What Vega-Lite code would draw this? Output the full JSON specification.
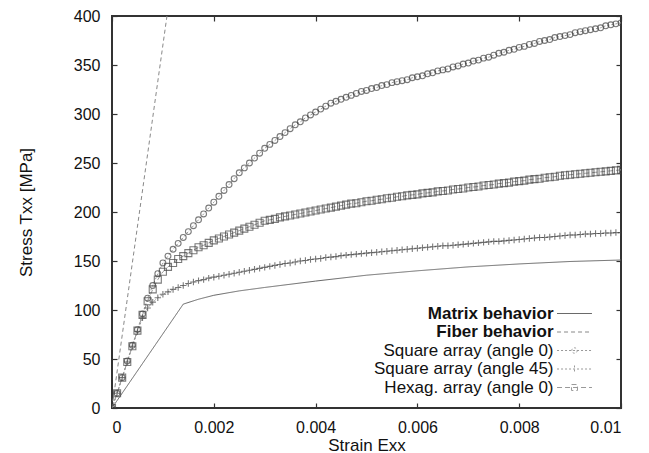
{
 "$schema": "https://vega.github.io/schema/vega-lite/v6.json",
 "width": 509, "height": 392,
 "autosize": {"type": "none"},
 "padding": {"left": 112, "top": 16, "right": 28, "bottom": 45},
 "background": "white",
 "config": {
  "view": {"stroke": "#333", "strokeWidth": 2},
  "font": "Liberation Sans",
  "axis": {"labelFont": "Liberation Sans", "labelFontSize": 16, "labelColor": "#111", "titleFont": "Liberation Sans", "titleFontSize": 17, "titleFontWeight": "normal", "titleColor": "#111", "domain": false, "grid": false, "tickColor": "#333", "tickWidth": 1.2, "tickSize": -5}
 },
 "data": {"values": [
  {"strain":0,"m":0,"f":0,"c":0,"p":0,"h":0},
  {"strain":0.0001,"c":15,"p":15,"h":15},
  {"strain":0.0002,"c":31,"p":31,"h":31},
  {"strain":0.0003,"c":48,"p":47,"h":47},
  {"strain":0.0004,"c":64,"p":63,"h":63},
  {"strain":0.0005,"c":80,"p":78,"h":79},
  {"strain":0.0006,"c":96,"p":92,"h":95},
  {"strain":0.0007,"c":112,"p":102,"h":109},
  {"strain":0.0008,"c":125,"p":108,"h":121},
  {"strain":0.0009,"c":137,"p":112.5,"h":131},
  {"strain":0.001,"c":148,"p":116,"h":139},
  {"strain":0.00108,"f":400},
  {"strain":0.0011,"c":155,"p":118.5,"h":144},
  {"strain":0.0012,"c":162,"p":121,"h":148},
  {"strain":0.0013,"c":168,"p":123,"h":152},
  {"strain":0.0014,"c":174,"p":125,"h":155,"m":106},
  {"strain":0.0015,"c":180,"p":127,"h":158},
  {"strain":0.0016,"c":186,"p":128.5,"h":161},
  {"strain":0.0017,"c":192,"p":130,"h":164,"m":111},
  {"strain":0.0018,"c":198,"p":131,"h":166},
  {"strain":0.0019,"c":204,"p":132.5,"h":168.5},
  {"strain":0.002,"c":210,"p":133.5,"h":171,"m":115},
  {"strain":0.0021,"c":216,"p":134.5,"h":173},
  {"strain":0.0022,"c":222,"p":135.5,"h":175},
  {"strain":0.0023,"c":228,"p":136.5,"h":177},
  {"strain":0.0024,"c":234,"p":137.5,"h":179},
  {"strain":0.0025,"c":240,"p":138.5,"h":181,"m":119.5},
  {"strain":0.0026,"c":245,"p":139.5,"h":183},
  {"strain":0.0027,"c":250,"p":140.5,"h":185},
  {"strain":0.0028,"c":255,"p":141.5,"h":187},
  {"strain":0.0029,"c":260,"p":142.5,"h":189},
  {"strain":0.003,"c":265,"p":143.5,"h":191,"m":123},
  {"strain":0.0031,"c":269,"p":144.5,"h":192},
  {"strain":0.0032,"c":273,"p":145.5,"h":193},
  {"strain":0.0033,"c":277,"p":146.5,"h":194.5},
  {"strain":0.0034,"c":281,"p":147.5,"h":195.5},
  {"strain":0.0035,"c":285,"p":148,"h":196.5},
  {"strain":0.0036,"c":289,"p":149,"h":197.5},
  {"strain":0.0037,"c":292,"p":150,"h":198.5},
  {"strain":0.0038,"c":296,"p":150.5,"h":199.5},
  {"strain":0.0039,"c":299,"p":151.5,"h":200.5},
  {"strain":0.004,"c":302,"p":152,"h":201.5,"m":129.5},
  {"strain":0.0041,"c":305,"p":152.5,"h":202.5},
  {"strain":0.0042,"c":308,"p":153.5,"h":203.5},
  {"strain":0.0043,"c":311,"p":154,"h":204.5},
  {"strain":0.0044,"c":313,"p":154.5,"h":205.5},
  {"strain":0.0045,"c":315,"p":155.5,"h":206.5},
  {"strain":0.0046,"c":317,"p":156,"h":207.5},
  {"strain":0.0047,"c":319,"p":156.5,"h":208.5},
  {"strain":0.0048,"c":321,"p":157,"h":209},
  {"strain":0.0049,"c":323,"p":157.5,"h":210},
  {"strain":0.005,"c":324,"p":158,"h":211,"m":135.5},
  {"strain":0.0051,"c":326,"p":158.5,"h":211.5},
  {"strain":0.0052,"c":327,"p":159,"h":212.5},
  {"strain":0.0053,"c":329,"p":159.5,"h":213},
  {"strain":0.0054,"c":330,"p":160,"h":214},
  {"strain":0.0055,"c":332,"p":160.5,"h":214.5},
  {"strain":0.0056,"c":333,"p":161,"h":215.5},
  {"strain":0.0057,"c":334,"p":161.5,"h":216},
  {"strain":0.0058,"c":335,"p":162,"h":217},
  {"strain":0.0059,"c":337,"p":162.5,"h":217.5},
  {"strain":0.006,"c":338,"p":163,"h":218,"m":140},
  {"strain":0.0061,"c":339,"p":163.5,"h":219},
  {"strain":0.0062,"c":341,"p":164,"h":219.5},
  {"strain":0.0063,"c":342,"p":164.5,"h":220},
  {"strain":0.0064,"c":344,"p":165,"h":221},
  {"strain":0.0065,"c":345,"p":165.5,"h":221.5},
  {"strain":0.0066,"c":346,"p":165.5,"h":222},
  {"strain":0.0067,"c":348,"p":166,"h":223},
  {"strain":0.0068,"c":349,"p":166.5,"h":223.5},
  {"strain":0.0069,"c":351,"p":167,"h":224},
  {"strain":0.007,"c":352,"p":167.5,"h":225,"m":144},
  {"strain":0.0071,"c":354,"p":168,"h":225.5},
  {"strain":0.0072,"c":355,"p":168.5,"h":226},
  {"strain":0.0073,"c":357,"p":169,"h":227},
  {"strain":0.0074,"c":358,"p":169.5,"h":227.5},
  {"strain":0.0075,"c":360,"p":170,"h":228},
  {"strain":0.0076,"c":362,"p":170,"h":229},
  {"strain":0.0077,"c":363,"p":170.5,"h":229.5},
  {"strain":0.0078,"c":365,"p":171,"h":230},
  {"strain":0.0079,"c":366,"p":171.5,"h":231},
  {"strain":0.008,"c":368,"p":172,"h":231.5,"m":147},
  {"strain":0.0081,"c":369,"p":172.5,"h":232},
  {"strain":0.0082,"c":371,"p":173,"h":233},
  {"strain":0.0083,"c":372,"p":173.5,"h":233.5},
  {"strain":0.0084,"c":374,"p":174,"h":234},
  {"strain":0.0085,"c":375,"p":174,"h":235},
  {"strain":0.0086,"c":376,"p":174.5,"h":235.5},
  {"strain":0.0087,"c":378,"p":175,"h":236},
  {"strain":0.0088,"c":379,"p":175.5,"h":237},
  {"strain":0.0089,"c":380,"p":176,"h":237.5},
  {"strain":0.009,"c":381,"p":176.5,"h":238,"m":149.5},
  {"strain":0.0091,"c":383,"p":176.5,"h":238.5},
  {"strain":0.0092,"c":384,"p":177,"h":239},
  {"strain":0.0093,"c":385,"p":177.5,"h":239.5},
  {"strain":0.0094,"c":386,"p":177.5,"h":240},
  {"strain":0.0095,"c":387,"p":178,"h":240.5},
  {"strain":0.0096,"c":388,"p":178,"h":241},
  {"strain":0.0097,"c":390,"p":178.5,"h":241.5},
  {"strain":0.0098,"c":391,"p":178.5,"h":242},
  {"strain":0.0099,"c":392,"p":179,"h":242.5},
  {"strain":0.01,"c":393,"p":179,"h":243,"m":151}
 ]},
 "transform": [{"fold": ["m", "f", "c", "p", "h"], "as": ["series", "stress"]}, {"filter": "isValid(datum.stress)"}],
 "layer": [
  {
   "mark": {"type": "line", "strokeWidth": 1, "clip": true},
   "encoding": {
    "x": {"field": "strain", "type": "quantitative", "scale": {"domain": [0, 0.01], "nice": false},
          "axis": {"orient": "bottom", "values": [0, 0.002, 0.004, 0.006, 0.008, 0.01], "format": ".3~f", "title": "Strain Exx", "labelPadding": 16, "titlePadding": 2}},
    "y": {"field": "stress", "type": "quantitative", "scale": {"domain": [0, 400], "nice": false},
          "axis": {"orient": "left", "values": [0, 50, 100, 150, 200, 250, 300, 350, 400], "title": "Stress Txx [MPa]", "labelPadding": 17, "titlePadding": 38}},
    "color": {"field": "series", "type": "nominal",
              "scale": {"domain": ["m", "f", "c", "p", "h"], "range": ["#666666", "#888888", "#999999", "#999999", "#999999"]},
              "legend": {"title": null, "orient": "none", "legendX": 453, "legendY": 288, "padding": 0,
                         "labelExpr": "{'m':'Matrix behavior','f':'Fiber behavior','c':'Square array (angle 0)','p':'Square array (angle 45)','h':'Hexag. array (angle 0)'}[datum.value]",
                         "labelAlign": "right", "labelOffset": -30.5, "labelFont": "Liberation Sans", "labelFontSize": 17, "labelColor": "#111", "labelLimit": 0,
                         "symbolType": "stroke", "symbolSize": 324, "symbolStrokeWidth": 1, "rowPadding": 0.5,
                         "encode": {"symbols": {"update": {"shape": {"signal": "datum.value=='c'?'M-1.94,0H1.94M0.3,0A0.3,0.3 0 1 1 -0.3,0A0.3,0.3 0 1 1 0.3,0':datum.value=='p'?'M-1.94,0H1.94M0,-0.39V0.39':datum.value=='h'?'M-1.94,0H1.94M-0.33,-0.33H0.33V0.33H-0.33Z':'M-1.94,0H1.94'"}, "fill": {"value": "transparent"}}},
                                    "labels": {"update": {"fontWeight": {"signal": "datum.index<2?'bold':'normal'"}}}}}},
    "strokeDash": {"field": "series", "type": "nominal",
              "scale": {"domain": ["m", "f", "c", "p", "h"], "range": [[1, 0], [4, 3], [2, 2], [2, 2], [5, 3]]},
              "legend": {"title": null, "orient": "none", "legendX": 453, "legendY": 288, "padding": 0,
                         "labelExpr": "{'m':'Matrix behavior','f':'Fiber behavior','c':'Square array (angle 0)','p':'Square array (angle 45)','h':'Hexag. array (angle 0)'}[datum.value]",
                         "labelAlign": "right", "labelOffset": -30.5, "labelFont": "Liberation Sans", "labelFontSize": 17, "labelColor": "#111", "labelLimit": 0,
                         "symbolType": "stroke", "symbolSize": 324, "symbolStrokeWidth": 1, "rowPadding": 0.5,
                         "encode": {"symbols": {"update": {"shape": {"signal": "datum.value=='c'?'M-1.94,0H1.94M0.3,0A0.3,0.3 0 1 1 -0.3,0A0.3,0.3 0 1 1 0.3,0':datum.value=='p'?'M-1.94,0H1.94M0,-0.39V0.39':datum.value=='h'?'M-1.94,0H1.94M-0.33,-0.33H0.33V0.33H-0.33Z':'M-1.94,0H1.94'"}, "fill": {"value": "transparent"}}},
                                    "labels": {"update": {"fontWeight": {"signal": "datum.index<2?'bold':'normal'"}}}}}}
   }
  },
  {
   "transform": [{"filter": "datum.series=='c'||datum.series=='p'||datum.series=='h'"}],
   "mark": {"type": "point", "filled": false, "strokeWidth": 1.1, "clip": true, "color": "#444444"},
   "encoding": {
    "x": {"field": "strain", "type": "quantitative", "scale": {"domain": [0, 0.01], "nice": false},
          "axis": {"orient": "top", "values": [0, 0.002, 0.004, 0.006, 0.008, 0.01], "labels": false, "title": null}},
    "y": {"field": "stress", "type": "quantitative", "scale": {"domain": [0, 400], "nice": false},
          "axis": {"orient": "right", "values": [0, 50, 100, 150, 200, 250, 300, 350, 400], "labels": false, "title": null}},
    "shape": {"field": "series", "type": "nominal", "scale": {"domain": ["c", "p", "h"], "range": ["circle", "M-1,0H1M0,-1V1", "square"]}, "legend": null},
    "size": {"field": "series", "type": "nominal", "scale": {"domain": ["c", "p", "h"], "range": [34, 49, 40]}, "legend": null}
   }
  }
 ],
 "resolve": {"axis": {"x": "independent", "y": "independent"}}
}
